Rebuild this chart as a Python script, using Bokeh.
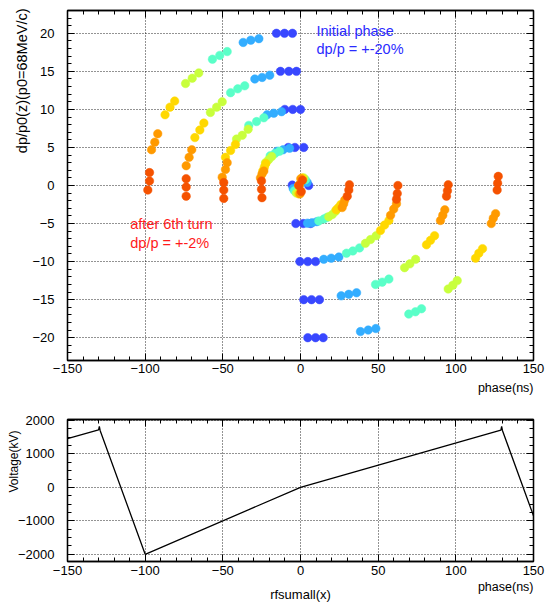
from bokeh.plotting import figure
from bokeh.layouts import column
from bokeh.models import (Range1d, LinearAxis, SingleIntervalTicker, Title,
                          CustomJSTickFormatter)
from bokeh.core.properties import value
from bokeh.embed import file_html
from bokeh.resources import INLINE

# ---------------- data: phase space points after each turn ----------------
# order in every list: arms starting at dp=+20,+15,+10,+5, centre (0), -5,-10,-15,-20 (3 particles each)
phase_t0 = [-15.5, -10.3, -5.2, -12.9, -7.5, -2.6, -10.1, -5.0, 0.0, -7.9, -3.6, 2.1,
            -5.3, -1.0, 5.3, -3.0, 1.8, 6.5, -0.4, 4.7, 9.7, 2.1, 7.1, 12.2, 4.7, 9.7, 14.6]
dp_t0 = [20, 20, 20, 15, 15, 15, 10, 10, 10, 5, 5, 5,
         0.05, 0, 0, -5, -5, -5, -10, -10, -10, -15, -15, -15, -20, -20, -20]

phase_t1 = [-36.9, -32.0, -26.8, -29.4, -24.7, -19.8, -21.5, -17.2, -12.2, -15.0, -11.2, -7.0,
            -4.7, -1.0, 4.3, 4.5, 7.5, 10.5, 15.0, 19.8, 24.7, 26.2, 31.1, 36.1, 38.6, 43.6, 48.5]
dp_t1 = [18.8, 19.1, 19.3, 14.0, 14.2, 14.5, 9.3, 9.5, 9.7, 4.5, 4.7, 4.9,
         -0.4, 0, 0.4, -4.95, -4.9, -4.75, -9.7, -9.55, -9.4, -14.5, -14.3, -14.1, -19.2, -19.0, -18.8]

phase_t2 = [-56.7, -52.0, -47.2, -45.0, -40.4, -35.9, -33.3, -28.3, -23.6, -19.5, -16.5, -13.5,
            -3.9, -1.0, 3.2, 11.8, 15.0, 17.0, 29.6, 33.7, 38.0, 48.3, 52.6, 56.9, 69.7, 74.0, 77.9]
dp_t2 = [16.6, 17.1, 17.6, 12.2, 12.7, 13.1, 7.9, 8.4, 8.9, 3.9, 4.2, 4.5,
         -0.7, 0, 0.75, -4.65, -4.4, -4.2, -8.9, -8.6, -8.2, -13.0, -12.7, -12.3, -16.9, -16.6, -16.2]

phase_t3 = [-74.0, -69.7, -65.5, -58.0, -54.0, -50.4, -41.2, -37.5, -33.7, -22.5, -20.5, -18.5,
            -2.6, -1.0, 2.1, 18.2, 20.5, 22.5, 41.8, 45.1, 48.7, 67.0, 70.4, 74.1, 95.1, 98.1, 100.9]
dp_t3 = [13.4, 14.1, 14.8, 9.6, 10.3, 11.0, 6.1, 6.6, 7.4, 3.0, 3.4, 3.8,
         -1.0, 0, 1.0, -4.1, -3.8, -3.4, -7.6, -7.1, -6.6, -10.8, -10.3, -9.7, -13.6, -13.1, -12.5]

phase_t4 = [-87.2, -84.0, -81.0, -68.0, -64.8, -62.2, -48.3, -45.0, -41.9, -24.3, -23.3, -22.3,
            -1.1, -1.0, 1.1, 23.0, 24.5, 26.0, 51.5, 54.1, 56.9, 81.1, 83.7, 86.3, 112.7, 114.8, 117.2]
dp_t4 = [9.3, 10.3, 11.1, 6.3, 7.3, 8.2, 3.7, 4.6, 5.4, 1.9, 2.4, 2.9,
         -1.1, 0, 1.0, -3.2, -2.9, -2.5, -5.9, -5.2, -4.6, -7.8, -7.2, -6.6, -9.55, -8.9, -8.3]

phase_t5 = [-95.9, -93.8, -91.9, -73.6, -71.7, -70.0, -50.4, -48.3, -47.2, -25.8, -24.8, -23.6,
            -0.3, -1.0, 0.2, 26.8, 27.8, 28.5, 58.0, 60.0, 61.8, 90.1, 91.6, 92.9, 122.8, 124.1, 125.6]
dp_t5 = [4.7, 5.7, 6.8, 2.6, 3.7, 4.7, 1.1, 2.1, 3.0, 1.0, 1.5, 1.9,
         -1.1, 0, 0.9, -2.9, -2.4, -1.9, -3.9, -3.1, -2.4, -4.6, -3.9, -3.2, -5.0, -4.3, -3.7]

phase_t6 = [-97.2, -97.2, -98.3, -73.6, -73.6, -73.6, -49.4, -49.4, -49.4, -25.1, -25.1, -24.8,
            0.5, -1.1, 1.3, 30.1, 31.1, 31.5, 61.8, 62.3, 62.7, 94.0, 94.6, 95.1, 126.6, 126.9, 127.3]
dp_t6 = [1.7, 0.6, -0.6, 0.9, -0.2, -1.4, 0.4, -0.6, -1.7, 0.6, -0.5, -1.6,
         -0.8, 0, 0.7, -1.4, -0.6, 0.1, -1.8, -1.05, 0.0, -1.4, -0.7, 0.1, -0.6, 0.3, 1.2]

turn_phases = [phase_t0, phase_t1, phase_t2, phase_t3, phase_t4, phase_t5, phase_t6]
turn_dps = [dp_t0, dp_t1, dp_t2, dp_t3, dp_t4, dp_t5, dp_t6]
turn_colors = ["#3847ff", "#33adff", "#5affc8", "#c8ff3c", "#ffd800", "#ff9a00", "#f55200"]

# ---------------- data: rf voltage ----------------
volt_phase = [-150, -130, -129.5, -129, -100, 0, 129, 129.5, 130, 150]
volt_kv = [1460, 1720, 1820, 1700, -2000, 0, 1710, 1820, 1700, -850]

FONT = "Liberation Sans"
TICK_FS = "13px"


def minus_fmt():
    return CustomJSTickFormatter(code="return tick < 0 ? '\u2212' + Math.abs(tick) : String(tick);")


def style_axis(ax, interval, nminor, standoff):
    ax.ticker = SingleIntervalTicker(interval=interval, num_minor_ticks=nminor)
    ax.formatter = minus_fmt()
    ax.major_tick_in = 7
    ax.major_tick_out = 0
    ax.minor_tick_in = 4
    ax.minor_tick_out = 0
    ax.major_tick_line_color = "black"
    ax.minor_tick_line_color = "black"
    ax.axis_line_color = "black"
    ax.axis_line_width = 1.3
    ax.major_label_standoff = standoff
    ax.major_label_text_font = FONT
    ax.major_label_text_font_size = TICK_FS
    ax.major_label_text_color = "black"


def make_title(text, size, align, standoff, offset=0):
    t = Title(text=text, align=align, text_font=FONT, text_font_size=size,
              text_font_style="normal", text_color="black", offset=offset)
    try:
        t.standoff = standoff
    except Exception:
        pass
    return t


def mirror_axes(p, xint, xmin, yint, ymin):
    top = LinearAxis()
    style_axis(top, xint, xmin, 0)
    top.formatter = CustomJSTickFormatter(code="return '';")
    top.major_label_text_font_size = "0px"
    p.add_layout(top, "above")
    right = LinearAxis()
    style_axis(right, yint, ymin, 0)
    right.formatter = CustomJSTickFormatter(code="return '';")
    right.major_label_text_font_size = "0px"
    p.add_layout(right, "right")


def style_fig(p, xax, yax):
    p.outline_line_color = "black"
    p.outline_line_width = 1.3
    p.outline_line_alpha = 1.0
    p.background_fill_color = "white"
    p.border_fill_color = "white"
    p.xgrid.ticker = xax.ticker
    p.ygrid.ticker = yax.ticker
    for g in (p.xgrid, p.ygrid):
        g.grid_line_color = "black"
        g.grid_line_dash = "1 2"
        g.grid_line_width = 1
        g.grid_line_alpha = 0.85


# ---------------- top: phase space ----------------
p1 = figure(width=550, height=400, x_range=Range1d(-150, 150), y_range=Range1d(-23, 23),
            output_backend="svg", toolbar_location=None,
            min_border_left=67, min_border_right=17, min_border_top=10, min_border_bottom=40)
xa1 = p1.xaxis[0]
ya1 = p1.yaxis[0]
style_axis(xa1, 50, 5, 3)
style_axis(ya1, 5, 5, 13)
mirror_axes(p1, 50, 5, 5, 5)
style_fig(p1, xa1, ya1)
p1.add_layout(make_title("phase(ns)", "12.5px", "right", 7), "below")
p1.add_layout(make_title("dp/p0(z)(p0=68MeV/c)", "14.5px", "right", 0, -2), "left")

for ph, dp, col in zip(turn_phases, turn_dps, turn_colors):
    p1.scatter(ph, dp, size=8.5, fill_color=col, line_color=col, line_width=0.5)

p1.text(x=[10.3, 10.3], y=[20.35, 18.0], text=["Initial phase", "dp/p = +-20%"],
        text_color="#2a2aff", text_font=value(FONT), text_font_size="14.5px",
        text_baseline="middle", text_align="left")
p1.text(x=[-109.6, -109.6], y=[-5.08, -7.5], text=["after 6th turn", "dp/p = +-2%"],
        text_color="#ff1a1a", text_font=value(FONT), text_font_size="14.5px",
        text_baseline="middle", text_align="left")

# ---------------- bottom: rf voltage ----------------
p2 = figure(width=550, height=204, x_range=Range1d(-150, 150), y_range=Range1d(-2215, 2028),
            output_backend="svg", toolbar_location=None,
            min_border_left=67, min_border_right=17, min_border_top=19, min_border_bottom=40)
xa2 = p2.xaxis[0]
ya2 = p2.yaxis[0]
style_axis(xa2, 50, 5, 4)
style_axis(ya2, 1000, 4, 13)
mirror_axes(p2, 50, 5, 1000, 4)
style_fig(p2, xa2, ya2)
p2.add_layout(make_title("Voltage(kV)", "12px", "right", -12, 11), "left")
p2.add_layout(make_title("phase(ns)", "12.5px", "right", 0), "below")

xlab2 = LinearAxis(axis_label="rfsumall(x)")
xlab2.ticker = SingleIntervalTicker(interval=50, num_minor_ticks=0)
xlab2.formatter = CustomJSTickFormatter(code="return '';")
xlab2.major_label_text_font_size = "0px"
xlab2.major_label_standoff = 0
xlab2.major_tick_in = 0
xlab2.major_tick_out = 0
xlab2.minor_tick_in = 0
xlab2.minor_tick_out = 0
xlab2.axis_line_color = None
xlab2.axis_label_text_font = FONT
xlab2.axis_label_text_font_size = "13px"
xlab2.axis_label_text_font_style = "normal"
xlab2.axis_label_text_color = "black"
xlab2.axis_label_standoff = -7
p2.add_layout(xlab2, "below")

p2.line(volt_phase, volt_kv, line_color="black", line_width=1.3)

layout = column(p1, p2, spacing=0)
open("out.html", "w").write(file_html(layout, INLINE))
